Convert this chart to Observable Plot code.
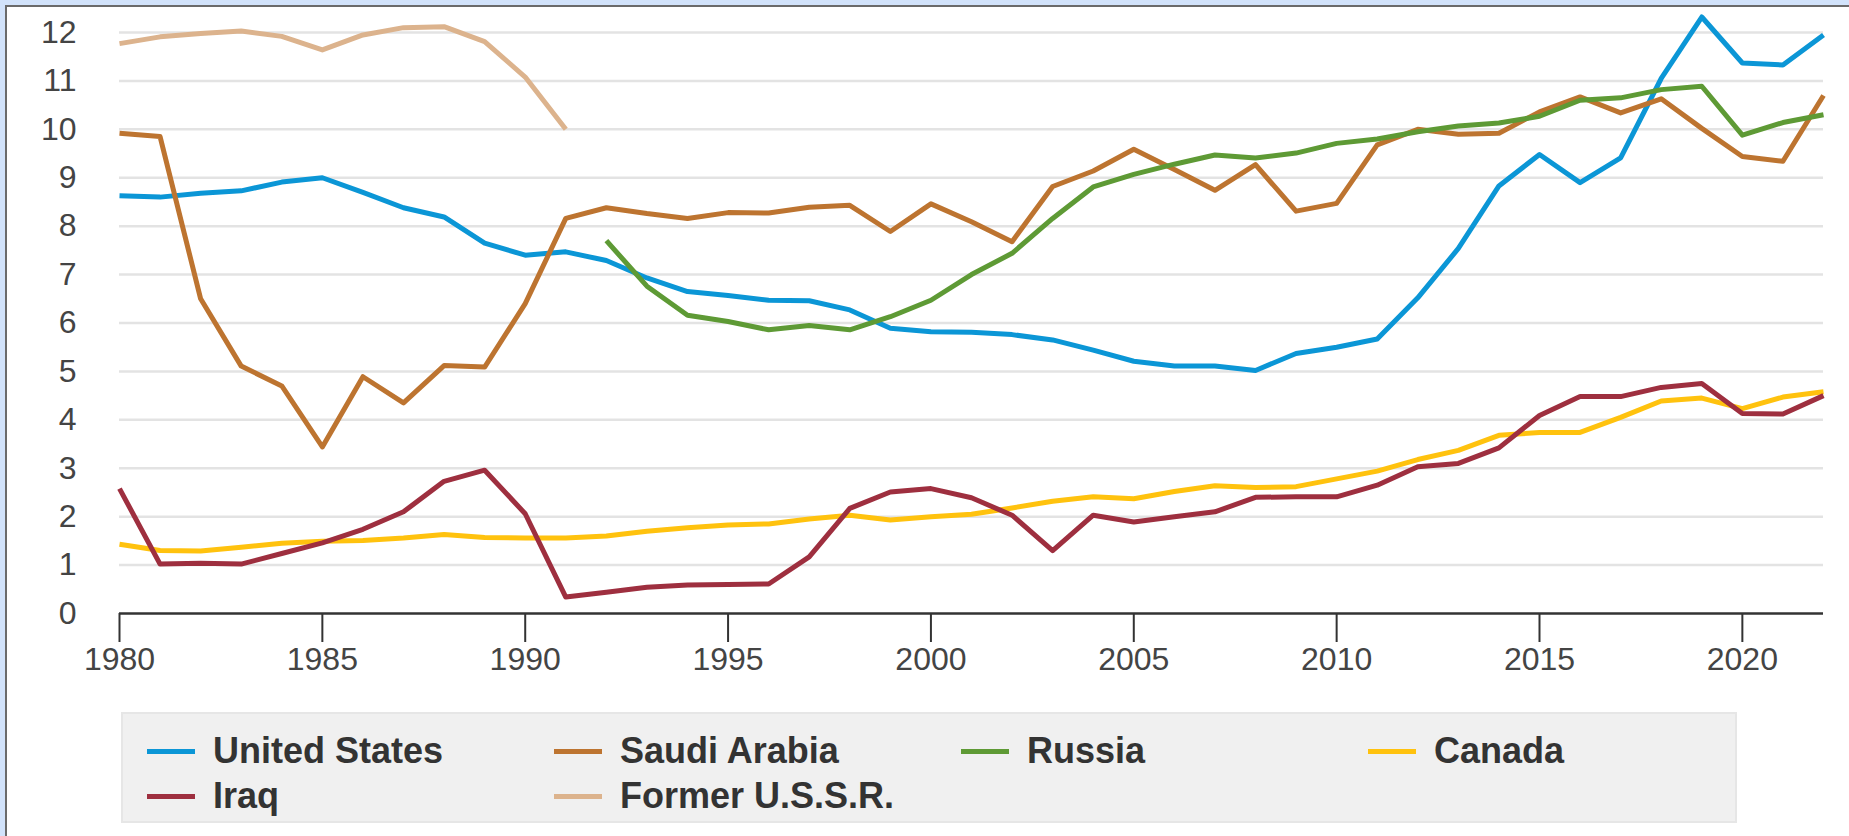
<!DOCTYPE html>
<html>
<head>
<meta charset="utf-8">
<script src="https://cdn.jsdelivr.net/npm/d3@7"></script>
<script src="https://cdn.jsdelivr.net/npm/@observablehq/plot@0.6"></script>
<style>
  html, body { margin: 0; padding: 0; background: #ffffff; }
  body { width: 1849px; height: 836px; position: relative; overflow: hidden;
         font-family: "Liberation Sans", Arial, sans-serif; }
  #chart { position: absolute; left: 0; top: 0; }
  .frameTop { position: absolute; left: 0; top: 0; width: 1849px; height: 5px; background: #d2e3fb; }
  .frameTopLine { position: absolute; left: 5px; top: 5px; width: 1844px; height: 2px; background: #6b6b6b; }
  .frameLeft { position: absolute; left: 0; top: 0; width: 5px; height: 836px; background: #d2e3fb; }
  .frameLeftLine { position: absolute; left: 5px; top: 5px; width: 2px; height: 831px; background: #6b6b6b; }
  #legend { position: absolute; left: 121px; top: 712px; width: 1612px; height: 107px;
            background: #f0f0f0; border: 2px solid #e6e6e6; box-sizing: content-box; }
  .item { position: absolute; display: flex; align-items: center; height: 40px;
          font-weight: bold; font-size: 36px; color: #333; white-space: nowrap; }
  .sw { width: 48px; height: 5px; margin-right: 18px; }
</style>
</head>
<body>
<div id="chart"></div>
<div id="legend"></div>
<div class="frameTop"></div>
<div class="frameLeft"></div>
<div class="frameTopLine"></div>
<div class="frameLeftLine"></div>
<script>
const years = d3.range(1980, 2023);

const unitedStates = [8.63, 8.60, 8.68, 8.73, 8.91, 9.00, 8.70, 8.38, 8.19, 7.65, 7.40, 7.47,
  7.29, 6.93, 6.65, 6.57, 6.47, 6.46, 6.27, 5.89, 5.82, 5.81, 5.76, 5.65, 5.44, 5.21, 5.11, 5.11,
  5.02, 5.37, 5.50, 5.67, 6.52, 7.54, 8.83, 9.48, 8.90, 9.41, 11.05, 12.32, 11.37, 11.33, 11.95];

const saudiArabia = [9.92, 9.85, 6.50, 5.11, 4.70, 3.44, 4.89, 4.35, 5.12, 5.09, 6.40, 8.16,
  8.38, 8.26, 8.16, 8.28, 8.27, 8.39, 8.43, 7.89, 8.46, 8.09, 7.68, 8.82, 9.14, 9.59, 9.17, 8.74,
  9.27, 8.31, 8.47, 9.68, 10.00, 9.90, 9.92, 10.36, 10.67, 10.34, 10.63, 10.02, 9.44, 9.34, 10.70];

const russia = [null, null, null, null, null, null, null, null, null, null, null, null,
  7.70, 6.76, 6.16, 6.03, 5.86, 5.95, 5.86, 6.13, 6.47, 7.00, 7.44, 8.16, 8.81, 9.07, 9.28, 9.47,
  9.41, 9.51, 9.71, 9.80, 9.95, 10.07, 10.13, 10.27, 10.60, 10.65, 10.82, 10.89, 9.88, 10.14, 10.30];

const canada = [1.43, 1.30, 1.29, 1.37, 1.45, 1.49, 1.51, 1.56, 1.63, 1.57, 1.56, 1.56,
  1.60, 1.70, 1.77, 1.83, 1.85, 1.95, 2.03, 1.93, 2.00, 2.05, 2.18, 2.32, 2.41, 2.37, 2.52, 2.64,
  2.60, 2.62, 2.78, 2.94, 3.18, 3.37, 3.68, 3.74, 3.74, 4.05, 4.39, 4.45, 4.23, 4.47, 4.58];

const iraq = [2.58, 1.02, 1.04, 1.02, 1.24, 1.46, 1.74, 2.10, 2.73, 2.96, 2.06, 0.34,
  0.44, 0.54, 0.59, 0.60, 0.61, 1.17, 2.17, 2.51, 2.58, 2.39, 2.03, 1.30, 2.03, 1.89, 2.00, 2.10,
  2.40, 2.41, 2.41, 2.65, 3.03, 3.10, 3.42, 4.09, 4.48, 4.48, 4.67, 4.75, 4.13, 4.12, 4.50];

const formerUSSR = [11.77, 11.91, 11.98, 12.03, 11.92, 11.64, 11.95, 12.10, 12.12, 11.81, 11.08, 10.00,
  null, null, null, null, null, null, null, null, null, null, null, null, null, null, null, null,
  null, null, null, null, null, null, null, null, null, null, null, null, null, null, null];

const seriesNames = ["United States", "Saudi Arabia", "Russia", "Canada", "Iraq", "Former U.S.S.R."];
const seriesColors = ["#0b96d6", "#bd7430", "#5e9a35", "#ffc20e", "#9e2f3f", "#dcb38d"];
const seriesValues = [unitedStates, saudiArabia, russia, canada, iraq, formerUSSR];

const xTicks = [1980, 1985, 1990, 1995, 2000, 2005, 2010, 2015, 2020];
const yTicks = [0, 1, 2, 3, 4, 5, 6, 7, 8, 9, 10, 11, 12];

const lineMarks = seriesValues.map((vals, i) =>
  Plot.line(years.map((yr, j) => ({year: yr, value: vals[j]})), {
    x: "year", y: "value",
    defined: d => d.value != null,
    stroke: seriesColors[i], strokeWidth: 5, strokeLinejoin: "round", strokeLinecap: "butt"
  })
);

const chart = Plot.plot({
  width: 1849,
  height: 700,
  marginLeft: 119,
  marginRight: 26,
  marginTop: 32,
  marginBottom: 87,
  style: {fontFamily: "'Liberation Sans', Arial, sans-serif", fontSize: "32px", color: "#444", background: "transparent", overflow: "visible"},
  x: {domain: [1980, 2022]},
  y: {domain: [0, 12]},
  marks: [
    Plot.gridY(yTicks.filter(d => d > 0), {stroke: "#e3e3e3", strokeOpacity: 1, strokeWidth: 2.5}),
    Plot.axisY(yTicks, {tickSize: 0, tickPadding: 43, tickFormat: d => String(d), fill: "#444", label: null}),
    Plot.axisX(xTicks, {tickSize: 29, tickPadding: 5, tickFormat: d => String(d), stroke: "#333", strokeWidth: 2, fill: "#444", label: null}),
    Plot.ruleY([0], {stroke: "#333", strokeWidth: 2.5}),
    ...lineMarks
  ]
});
document.getElementById("chart").appendChild(chart);

// legend
const legend = document.getElementById("legend");
const colX = [24, 431, 838, 1245];
const rowY = [19, 64];
seriesNames.forEach((name, i) => {
  const col = i % 4, row = Math.floor(i / 4);
  const it = document.createElement("div");
  it.className = "item";
  it.style.left = colX[col] + "px";
  it.style.top = (rowY[row] - 2) + "px";
  const sw = document.createElement("span");
  sw.className = "sw";
  sw.style.background = seriesColors[i];
  const tx = document.createElement("span");
  tx.textContent = name;
  it.appendChild(sw);
  it.appendChild(tx);
  legend.appendChild(it);
});
</script>
</body>
</html>
